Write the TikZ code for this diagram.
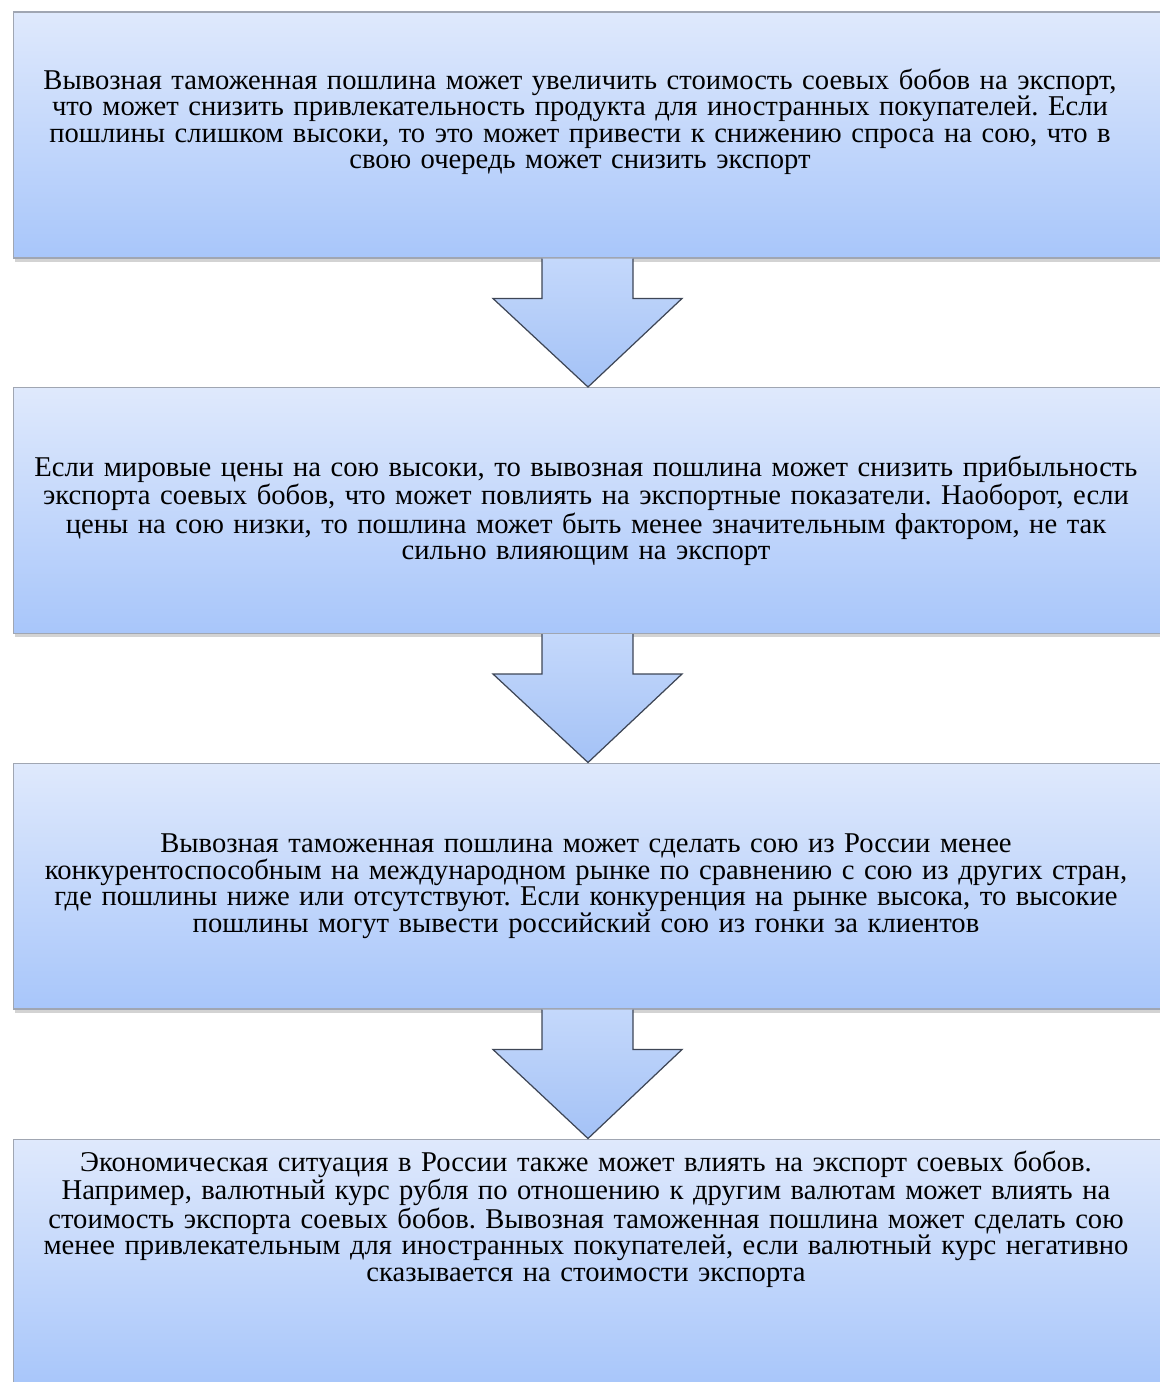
\documentclass[tikz,border=0pt]{standalone}
\usepackage{fontspec}
\setmainfont{Liberation Serif}
\usetikzlibrary{positioning,calc,shadows}
\frenchspacing

\definecolor{boxtop}{RGB}{223,233,252}
\definecolor{boxbot}{RGB}{168,198,250}
\definecolor{arrtop}{RGB}{196,216,251}
\definecolor{arrbot}{RGB}{164,194,246}
\definecolor{edgegray}{RGB}{160,166,178}
\definecolor{arredge}{RGB}{62,70,86}

\tikzset{
  stepbox/.style={rectangle, draw=edgegray, line width=0.6pt,
    top color=boxtop, bottom color=boxbot,
    minimum width=23cm, minimum height=4.92cm,
    drop shadow={shadow xshift=0.4mm, shadow yshift=-0.8mm, opacity=0.35}},
  steptext/.style={text width=22.9cm, align=center, inner sep=0pt,
    font=\fontsize{16.3}{15.1}\selectfont},
  flowarrow/.style={top color=arrtop, bottom color=arrbot,
    draw=arredge, line width=0.7pt, line join=miter}
}

\begin{document}
\begin{tikzpicture}[x=0.02cm, y=-0.02cm]
\useasboundingbox (0,0) rectangle (1159,1382);

\node[stepbox] (box1) at (588,135) {};
\node[stepbox] (box2) at (588,510.5) {};
\node[stepbox] (box3) at (588,886) {};
\node[stepbox] (box4) at (588,1262) {};

\node[steptext] (txt1) at (580,122) {Вывозная таможенная пошлина может увеличить стоимость соевых бобов на экспорт,\\ что может снизить привлекательность продукта для иностранных покупателей. Если\\ пошлины слишком высоки, то это может привести к снижению спроса на сою, что в\\ свою очередь может снизить экспорт};
\node[steptext] (txt2) at (586,511) {Если мировые цены на сою высоки, то вывозная пошлина может снизить прибыльность\\ экспорта соевых бобов, что может повлиять на экспортные показатели. Наоборот, если\\ цены на сою низки, то пошлина может быть менее значительным фактором, не так\\ сильно влияющим на экспорт};
\node[steptext] (txt3) at (586,886) {Вывозная таможенная пошлина может сделать сою из России менее\\ конкурентоспособным на международном рынке по сравнению с сою из других стран,\\ где пошлины ниже или отсутствуют. Если конкуренция на рынке высока, то высокие\\ пошлины могут вывести российский сою из гонки за клиентов};
\node[steptext] (txt4) at (586,1219) {Экономическая ситуация в России также может влиять на экспорт соевых бобов.\\ Например, валютный курс рубля по отношению к другим валютам может влиять на\\ стоимость экспорта соевых бобов. Вывозная таможенная пошлина может сделать сою\\ менее привлекательным для иностранных покупателей, если валютный курс негативно\\ сказывается на стоимости экспорта};

% block arrows between the steps
\draw[flowarrow] ($(box1.south)+(-46,0)$) -- ++(0,40) -- ++(-49,0) -- (box2.north) -- ($(box1.south)+(94,40)$) -- ++(-49,0) -- ++(0,-40);
\draw[flowarrow] ($(box2.south)+(-46,0)$) -- ++(0,40) -- ++(-49,0) -- (box3.north) -- ($(box2.south)+(94,40)$) -- ++(-49,0) -- ++(0,-40);
\draw[flowarrow] ($(box3.south)+(-46,0)$) -- ++(0,40) -- ++(-49,0) -- (box4.north) -- ($(box3.south)+(94,40)$) -- ++(-49,0) -- ++(0,-40);
\end{tikzpicture}
\end{document}
